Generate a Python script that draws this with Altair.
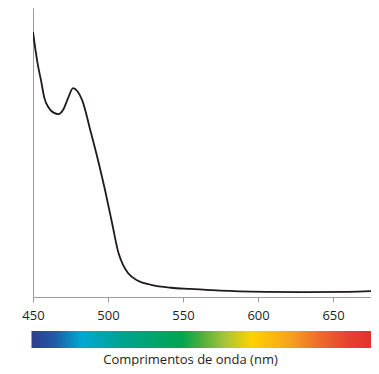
import altair as alt
import pandas as pd

# Absorption spectrum (arbitrary units)
wavelength = [450, 453, 455.5, 457.5, 460.5, 464, 467, 470, 473.5, 476.7, 479.5,
              482.7, 488.7, 493.3, 498, 502.7, 507, 510, 513.3, 520, 528.7, 542,
              555, 575, 605, 630, 660, 681]
absorbance = [0.917, 0.81, 0.745, 0.69, 0.655, 0.637, 0.633, 0.647, 0.69, 0.723, 0.713,
              0.682, 0.567, 0.474, 0.370, 0.256, 0.152, 0.111, 0.083, 0.056, 0.042, 0.032,
              0.028, 0.022, 0.018, 0.017, 0.018, 0.021]
tick_values = [450, 500, 550, 600, 650]
bar_start = [449]
bar_end = [681.3]

X_DOMAIN = [450, 681.3]
TEXT = "#231f20"
AXIS = "#9a9a9a"
FONT = "Open Sans"

spec = pd.DataFrame({"wl": wavelength, "a": absorbance})
bar = pd.DataFrame({"start": bar_start, "end": bar_end})

line = alt.Chart(spec).mark_line(
    color="#1f1a1a", strokeWidth=1.8, interpolate="monotone", clip=True
).encode(
    x=alt.X("wl:Q", scale=alt.Scale(domain=X_DOMAIN, nice=False, zero=False),
            axis=alt.Axis(values=tick_values, title="", grid=False, tickSize=5,
                          labelPadding=7, labelFontSize=13, labelFont=FONT,
                          labelColor=TEXT, domainColor=AXIS, tickColor=AXIS,
                          labelFlush=False)),
    y=alt.Y("a:Q", scale=alt.Scale(domain=[0, 1], nice=False),
            axis=alt.Axis(labels=False, ticks=False, grid=False, title="",
                          domainColor=AXIS)),
).properties(width=347, height=289)

stops = [(0.0, "#2e3d8f"), (0.066, "#1f5aa6"), (0.143, "#00a9d2"), (0.258, "#00a391"),
         (0.43, "#00a54f"), (0.487, "#4bae3a"), (0.553, "#a5c43a"), (0.633, "#ffd200"),
         (0.745, "#f6a020"), (0.822, "#ee6e2c"), (0.903, "#e6442f"), (1.0, "#e42a2d")]
grad = alt.Gradient(gradient="linear", x1=0, x2=1, y1=0, y2=0,
                    stops=[alt.GradientStop(offset=o, color=c) for o, c in stops])

colorbar = alt.Chart(bar).mark_rect(color=grad).encode(
    x=alt.X("start:Q", scale=alt.Scale(domain=X_DOMAIN, nice=False, zero=False),
            axis=alt.Axis(title="Comprimentos de onda (nm)", labels=False, ticks=False,
                          domain=False, grid=False, titleFont=FONT, titleFontSize=13,
                          titleFontWeight="normal", titleColor=TEXT, titlePadding=5,
                          titleX=157, titleAlign="center")),
    x2="end:Q",
).properties(width=347, height=17)

chart = alt.vconcat(line, colorbar, spacing=9).properties(
    padding={"left": 13, "top": 0, "right": -9, "bottom": 0}
).configure_view(stroke=None)

chart.save("out.html", embed_options={"renderer": "svg", "actions": False})
